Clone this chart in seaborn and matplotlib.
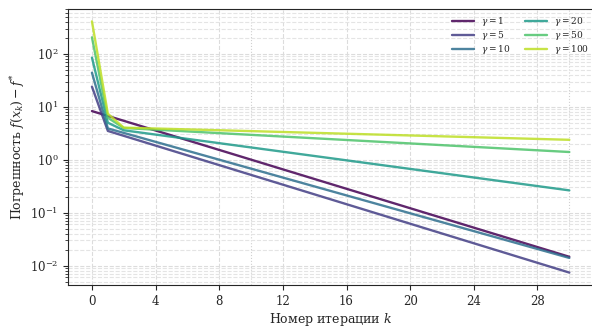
import numpy as np
import pandas as pd
import seaborn as sns
import matplotlib.pyplot as plt
from matplotlib.ticker import FixedLocator, NullFormatter

# iterations where the curves bend (straight on log scale in between)
iters = [0, 1, 2, 30]
gammas = [1, 5, 10, 20, 50, 100]

err_g1 = [8.3, 6.72, 5.44, 0.0147]
err_g5 = [24.0, 3.5, 2.83, 0.0074]
err_g10 = [44.0, 3.9, 3.21, 0.014]
err_g20 = [85.0, 5.0, 3.6, 0.264]
err_g50 = [205.0, 6.2, 3.98, 1.40]
err_g100 = [410.0, 7.4, 4.04, 2.38]

errs = [err_g1, err_g5, err_g10, err_g20, err_g50, err_g100]

rows = []
for g, e in zip(gammas, errs):
    for k, v in zip(iters, e):
        rows.append({'k': k, 'err': v, 'gamma': r'$\gamma = %d$' % g})
df = pd.DataFrame(rows)

sns.set_style('ticks')
plt.rcParams['font.family'] = ['DejaVu Serif']
plt.rcParams['mathtext.fontset'] = 'dejavuserif'

colors = [plt.cm.viridis(c) for c in np.linspace(0, 0.9, 6)]

fig = plt.figure(figsize=(5.92, 3.27), dpi=100)
ax = fig.add_axes([0.115, 0.128, 0.887, 0.845])

sns.lineplot(data=df, x='k', y='err', hue='gamma', palette=colors,
             linewidth=1.7, alpha=0.85, ax=ax)
ax.set_yscale('log')
ax.set_xlim(-1.5, 31.5)

ax.set_xticks(range(0, 30, 4))
ax.xaxis.set_minor_locator(FixedLocator([10, 20, 30]))
ax.xaxis.set_minor_formatter(NullFormatter())
ax.tick_params(axis='x', which='minor', length=0)
ax.tick_params(axis='both', which='major', labelsize=8.5, length=3.5)
ax.tick_params(axis='y', which='minor', length=2)

ax.grid(True, which='major', axis='both', ls='--', lw=0.8, color='#dcdcdc')
ax.grid(True, which='minor', axis='y', ls='--', lw=0.8, color='#e4e4e4')
ax.grid(True, which='minor', axis='x', ls=':', lw=0.8, color='#d0d0d0')

ax.set_xlabel(r'Номер итерации $k$', fontsize=9, labelpad=2)
ax.set_ylabel(r'Погрешность $f(x_k) - f^{*}$', fontsize=9, labelpad=2)

ax.legend(ncol=2, frameon=False, fontsize=6.5, handlelength=2.4,
          labelspacing=0.12, handletextpad=0.8, columnspacing=1.6,
          loc='upper left', borderaxespad=0,
          bbox_to_anchor=(0.725, 0.99))

plt.savefig('out.png', dpi=100)
